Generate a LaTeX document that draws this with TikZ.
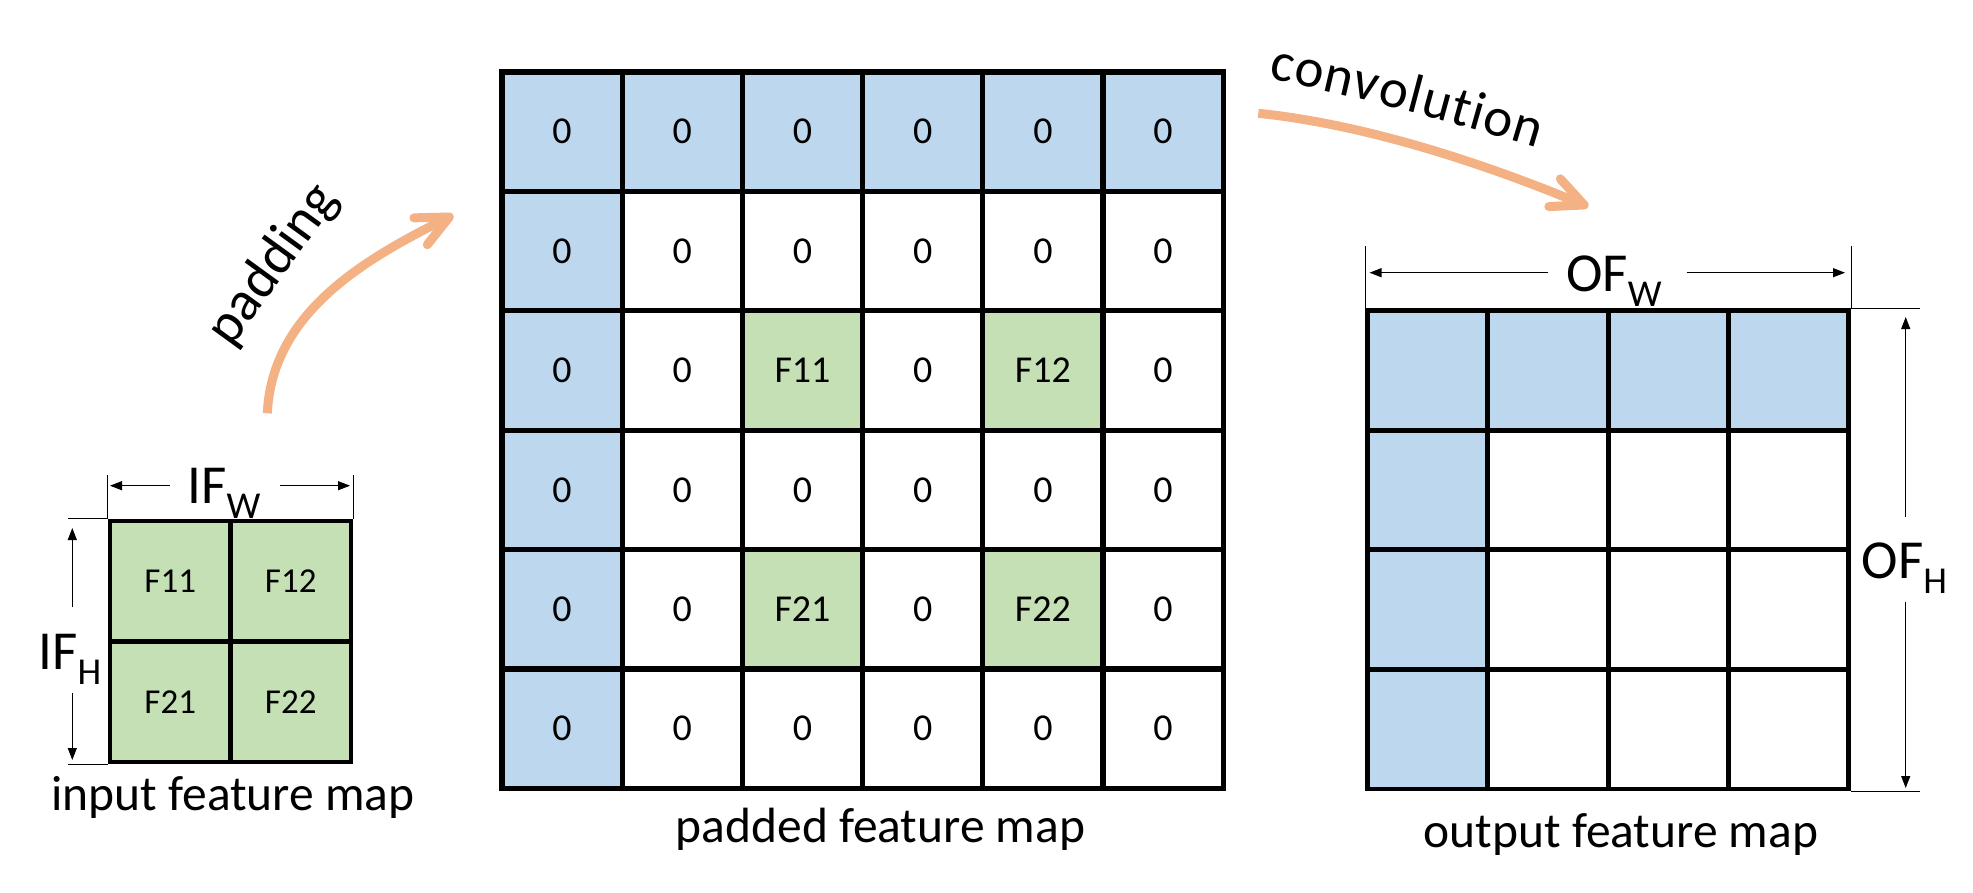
\documentclass[tikz,border=0pt]{standalone}
\usepackage{fontspec}
\setmainfont{Carlito}
\usetikzlibrary{arrows.meta,decorations.text}
\definecolor{padblue}{HTML}{BDD7EE}
\definecolor{featgreen}{HTML}{C5E0B4}
\definecolor{flow}{HTML}{F4B183}
\newcommand\dimsub[1]{\raisebox{-15pt}{\fontsize{38}{40}\selectfont #1}}
\tikzset{
  gridcell/.style={draw=black, inner sep=0pt},
  padcell/.style={gridcell, line width=5.2pt, minimum width=120.2pt, minimum height=119.4pt, font=\fontsize{38}{44}\selectfont},
  incell/.style={gridcell, line width=4.2pt, minimum width=120.5pt, minimum height=120.5pt, font=\fontsize{35}{40}\selectfont},
  outcell/.style={gridcell, line width=4.8pt, minimum width=120.3pt, minimum height=119.6pt},
  dimline/.style={line width=1.1pt, draw=black},
  dimarrow/.style={dimline, -{Triangle[length=12pt,width=9pt]}},
  biglabel/.style={inner sep=0pt, anchor=base, font=\fontsize{55}{60}\selectfont},
  caption/.style={inner sep=0pt, anchor=base, font=\fontsize{49.5}{56}\selectfont},
  flowarrow/.style={draw=flow, line width=9pt, -{Straight Barb[length=32pt,width=30pt,round]}},
}
\begin{document}
\begin{tikzpicture}[x=1pt,y=1pt]
\fill[white] (0,0) rectangle (1973,-893);
\useasboundingbox (0,0) rectangle (1973,-893);

% padded feature map
\foreach \r in {0,...,5}{
  \foreach \c in {0,...,5}{
    \pgfmathsetmacro\cx{502+120.2*(\c+0.5)}
    \pgfmathsetmacro\cy{-(72+119.4*(\r+0.5))}
    \pgfmathtruncatemacro\isblue{or(\r==0,\c==0)}
    \pgfmathtruncatemacro\isgreen{and(or(\r==2,\r==4),or(\c==2,\c==4))}
    \pgfmathtruncatemacro\ri{\r/2}
    \pgfmathtruncatemacro\ci{\c/2}
    \ifnum\isblue=1 \def\fc{padblue}\def\tx{0}\else
      \ifnum\isgreen=1 \def\fc{featgreen}\def\tx{F\ri\ci}\else
        \def\fc{white}\def\tx{0}\fi\fi
    \node[padcell, fill=\fc] (p-\r-\c) at (\cx,\cy) {\tx};
  }
}

% input feature map
\foreach \r in {1,2}{
  \foreach \c in {1,2}{
    \node[incell, fill=featgreen] (i-\r-\c) at ({110+120.5*(\c-0.5)},{-(521+120.5*(\r-0.5))}) {F\r\c};
  }
}

% output feature map
\foreach \r in {0,...,3}{
  \foreach \c in {0,...,3}{
    \pgfmathtruncatemacro\isblue{or(\r==0,\c==0)}
    \ifnum\isblue=1 \def\fc{padblue}\else\def\fc{white}\fi
    \node[outcell, fill=\fc] (o-\r-\c) at ({1367.5+120.3*(\c+0.5)},{-(310.5+119.6*(\r+0.5))}) {};
  }
}

% IF_W
\node[biglabel] (ifw) at (224,-503.3) {IF\dimsub{W}};
\coordinate (ifwL) at (110,-485.7);
\coordinate (ifwR) at (350,-485.7);
\coordinate (ifwgL) at (170,-485.7);
\coordinate (ifwgR) at (280,-485.7);
\draw[dimarrow] (ifwgL) -- (ifwL);
\draw[dimarrow] (ifwgR) -- (ifwR);
\draw[dimline] (i-1-1.north west) -- ++(0,44.3);
\draw[dimline] (i-1-2.north east) -- ++(0,44.3);

% IF_H
\node[biglabel] (ifh) at (70,-669.3) {IF\dimsub{H}};
\coordinate (ifhT) at (72.3,-528);
\coordinate (ifhB) at (72.3,-760);
\coordinate (ifhgT) at (72.3,-606.7);
\coordinate (ifhgB) at (72.3,-693.3);
\draw[dimarrow] (ifhgT) -- (ifhT);
\draw[dimarrow] (ifhgB) -- (ifhB);
\draw[dimline] (i-1-1.north west) -- ++(-40,0);
\draw[dimline] (i-2-1.south west) -- ++(-40,0);

% OF_W
\node[biglabel] (ofw) at (1614,-291.7) {OF\dimsub{W}};
\coordinate (ofwL) at (1369.5,-272.7);
\coordinate (ofwR) at (1845,-272.7);
\coordinate (ofwgL) at (1548.3,-272.7);
\coordinate (ofwgR) at (1686.7,-272.7);
\draw[dimarrow] (ofwgL) -- (ofwL);
\draw[dimarrow] (ofwgR) -- (ofwR);
\draw[dimline] (o-0-0.north west) -- ++(0,62.5);
\draw[dimline] (o-0-3.north east) -- ++(0,62.5);

% OF_H
\node[biglabel] (ofh) at (1904.3,-578.3) {OF\dimsub{H}};
\coordinate (ofhT) at (1905.7,-317);
\coordinate (ofhB) at (1905.7,-788);
\coordinate (ofhgT) at (1905.7,-516.7);
\coordinate (ofhgB) at (1905.7,-601.7);
\draw[dimarrow] (ofhgT) -- (ofhT);
\draw[dimarrow] (ofhgB) -- (ofhB);
\draw[dimline] (o-0-3.north east) -- ++(69,0);
\draw[dimline] (o-3-3.south east) -- ++(69,0);

% captions
\node[caption] (capin) at (233,-810) {input feature map};
\node[caption] (cappad) at (880.5,-842) {padded feature map};
\node[caption] (capout) at (1621,-847) {output feature map};

% padding arrow
\coordinate (padS) at (267.3,-413.3);
\coordinate (padE) at (453.3,-215);
\draw[flowarrow] (padS) .. controls (272,-313) and (363.6,-259.7) .. (padE);
\node[rotate=54, anchor=center, inner sep=0pt, font=\fontsize{56}{60}\selectfont] (padlbl) at (273.3,-265.1) {padding};

% convolution arrow
\coordinate (convS) at (1258.3,-113.3);
\coordinate (convE) at (1588.3,-206.7);
\draw[flowarrow] (convS) .. controls (1367.8,-124.6) and (1486.7,-164.6) .. (convE);
\path[decorate, decoration={text along path, text={|\fontsize{55}{60}\selectfont|convolution}, text align={fit to path}}]
  (1268,-79) .. controls (1356.4,-96.2) and (1451,-121.7) .. (1537,-148);
\end{tikzpicture}
\end{document}
